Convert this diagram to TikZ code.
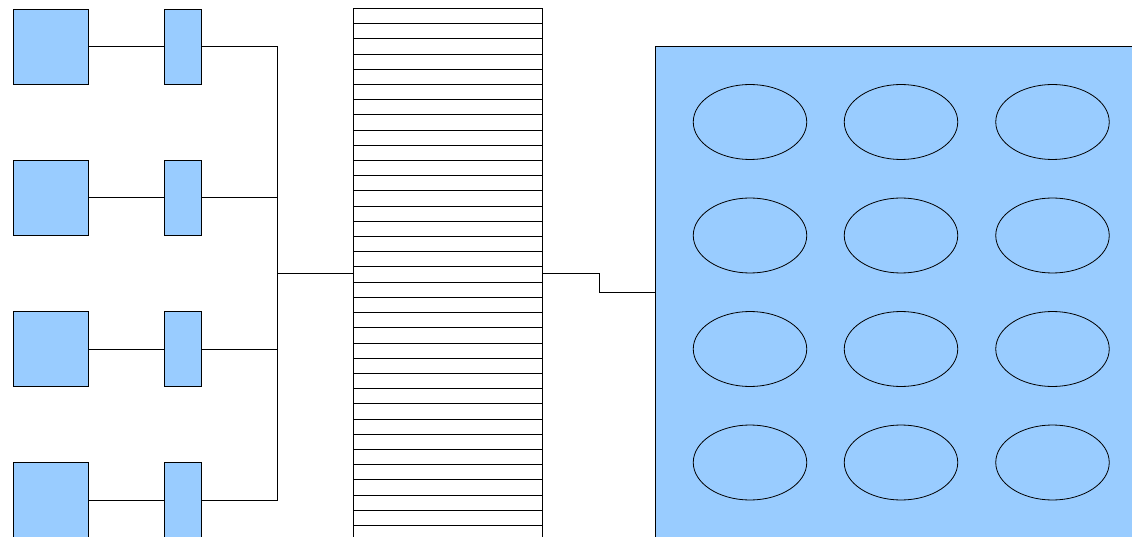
\documentclass[tikz,border=0pt]{standalone}
\usetikzlibrary{shapes.geometric}
\definecolor{boxblue}{HTML}{99CCFF}
\tikzset{
  unit/.style={draw=black, fill=boxblue, rectangle, inner sep=0pt, anchor=north west,
               minimum width=75pt, minimum height=75pt},
  port/.style={draw=black, fill=boxblue, rectangle, inner sep=0pt, anchor=north west,
               minimum width=37pt, minimum height=75pt},
  slot/.style={draw=black, fill=boxblue, ellipse, inner sep=0pt,
               minimum width=113.5pt, minimum height=75pt},
  wire/.style={draw=black}
}
\begin{document}
\begin{tikzpicture}[x=1pt, y=-1pt, line width=0.8pt]
  \useasboundingbox (0,0) rectangle (1132,537);
  \clip (0,0) rectangle (1132,537);

  % four units with their ports
  \foreach \i/\top in {1/9, 2/160, 3/311, 4/462} {
    \node[unit] (u\i) at (13,\top) {};
    \node[port] (p\i) at (164,\top) {};
    \draw[wire] (u\i.east) -- (p\i.west);
  }

  % bus joining the ports
  \coordinate (bus) at (277,273);
  \foreach \i in {1,...,4}
    \draw[wire] (p\i.east) -| (bus);

  % striped column
  \node[draw=black, fill=white, rectangle, inner sep=0pt, anchor=north west,
        minimum width=189pt, minimum height=560pt] (col) at (353,8.5) {};
  \foreach \k in {1,...,36}
    \draw[wire] ([yshift=-\k*15.2pt]col.north west) -- ([yshift=-\k*15.2pt]col.north east);

  \draw[wire] (bus) -- (bus -| col.west);

  % large panel
  \node[draw=black, fill=boxblue, rectangle, inner sep=0pt, anchor=north west,
        minimum width=500pt, minimum height=520pt] (panel) at (655,46) {};

  \coordinate (jog) at (599,292);
  \draw[wire] (bus -| col.east) -| (jog) -- (jog -| panel.west);

  % grid of slots on the panel
  \foreach \r/\y in {1/122, 2/235.5, 3/349, 4/462.5}
    \foreach \c/\x in {1/750, 2/901, 3/1052.5}
      \node[slot] (s\r\c) at (\x,\y) {};
\end{tikzpicture}
\end{document}
